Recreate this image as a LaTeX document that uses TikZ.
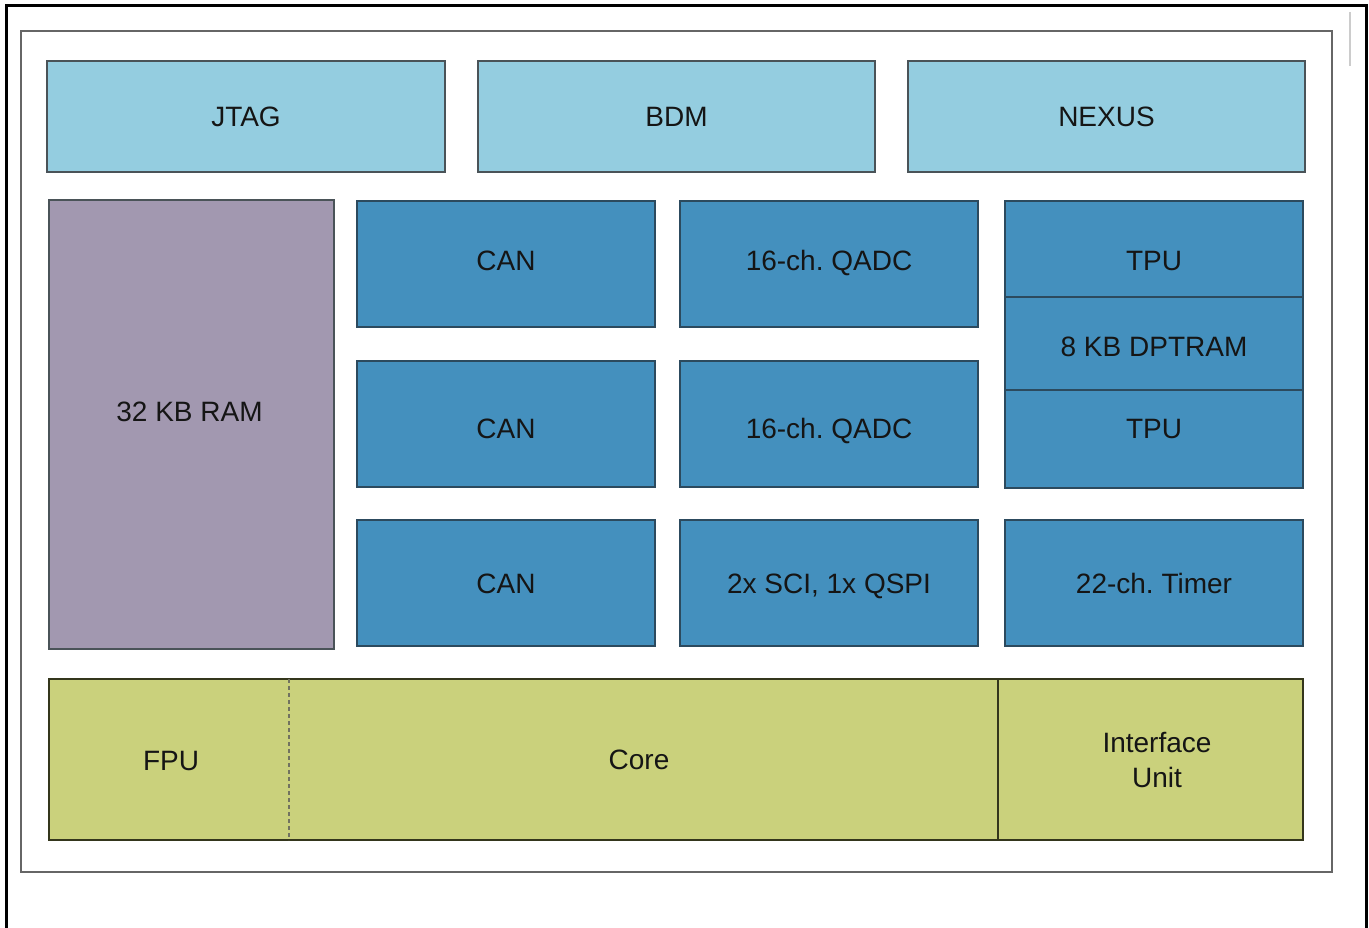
\documentclass[tikz,border=0pt]{standalone}
\usepackage{fontspec}
\setmainfont{Liberation Sans}
\frenchspacing
\definecolor{lblue}{HTML}{94CDE0}
\definecolor{mblue}{HTML}{4490BE}
\definecolor{purp}{HTML}{A298B0}
\definecolor{olive}{HTML}{CAD17C}
\definecolor{bordblue}{HTML}{2C4A5E}
\definecolor{bordgray}{HTML}{4A5358}
\definecolor{bordolive}{HTML}{34361C}
\definecolor{txt}{HTML}{151515}
\begin{document}
\begin{tikzpicture}[x=1pt,y=-1pt,
  every node/.style={font=\fontsize{28}{32}\selectfont, text=txt, inner sep=0pt, outer sep=0pt, text height=20pt, text depth=0pt},
  topbox/.style={draw=bordgray, line width=1.6pt, fill=lblue, rectangle},
  bluebox/.style={draw=bordblue, line width=1.4pt, fill=mblue, rectangle},
  rambox/.style={draw=bordgray, line width=1.6pt, fill=purp, rectangle},
  corebox/.style={draw=bordolive, line width=1.8pt, fill=olive, rectangle},
  part/.style={rectangle}]
\useasboundingbox (0,0) rectangle (1369,928);
\fill[white] (0,0) rectangle (1369,928);
% outer frame
\draw[black, line width=3pt] (6,928) -- (6,6) -- (1366,6) -- (1366,928);
\draw[gray!40, line width=1.5pt] (1350,12) -- (1350,66);
% inner frame
\draw[gray!80!black, line width=2.4pt] (21,31) rectangle (1332,872);
% top row
\node[topbox, minimum width=398, minimum height=111] (jtag) at (246,116.5) {JTAG};
\node[topbox, minimum width=397, minimum height=111] (bdm) at (676.5,116.5) {BDM};
\node[topbox, minimum width=397, minimum height=111] (nexus) at (1106.5,116.5) {NEXUS};
% RAM
\node[rambox, minimum width=285, minimum height=449] (ram) at (191.5,424.5) {};
\node (ramt) at (189.5,411) {32 KB RAM};
% grid
\node[bluebox, minimum width=298, minimum height=126] (can1) at (506,264) {};
\node[bluebox, minimum width=298, minimum height=126] (can2) at (506,424) {};
\node[bluebox, minimum width=298, minimum height=126] (can3) at (506,583) {CAN};
\node[bluebox, minimum width=298, minimum height=126] (qadc1) at (829,264) {};
\node[bluebox, minimum width=298, minimum height=126] (qadc2) at (829,424) {};
\node[bluebox, minimum width=298, minimum height=126] (sci) at (829,583) {2x SCI, 1x QSPI};
\node[bluebox, minimum width=298, minimum height=126] (timer) at (1154,583) {22-ch. Timer};
\node (can1t) at (506,261) {CAN};
\node (can2t) at (506,428) {CAN};
\node (qadc1t) at (829,261) {16-ch. QADC};
\node (qadc2t) at (829,428) {16-ch. QADC};
% TPU column
\node[bluebox, minimum width=298, minimum height=96] (tpu1) at (1154,249) {};
\node[bluebox, minimum width=298, minimum height=93] (dpt) at (1154,343.5) {};
\node[bluebox, minimum width=298, minimum height=98] (tpu2) at (1154,439) {};
\node (tpu1t) at (1154,261) {TPU};
\node (dptt) at (1154,346) {8 KB DPTRAM};
\node (tpu2t) at (1154,428) {TPU};
% bottom bar
\node[corebox, minimum width=1254, minimum height=161] (bar) at (676,759.5) {};
\node[part, minimum width=240, minimum height=161] (fpu) at (169,759.5) {};
\node (fput) at (171,760) {FPU};
\node[part, minimum width=709, minimum height=161] (core) at (643.5,759.5) {};
\node (coret) at (639,759.5) {Core};
\node[part, minimum width=305, minimum height=161] (iface) at (1150.5,759.5) {};
\node[align=center, font=\fontsize{28}{35}\selectfont, text height=, text depth=] (ifacet) at (1157,760) {Interface\\Unit};
\draw[bordolive!70, line width=1.6pt, dash pattern=on 4pt off 3pt] (fpu.north east) -- (fpu.south east);
\draw[bordolive, line width=1.6pt] (core.north east) -- (core.south east);
\end{tikzpicture}
\end{document}
